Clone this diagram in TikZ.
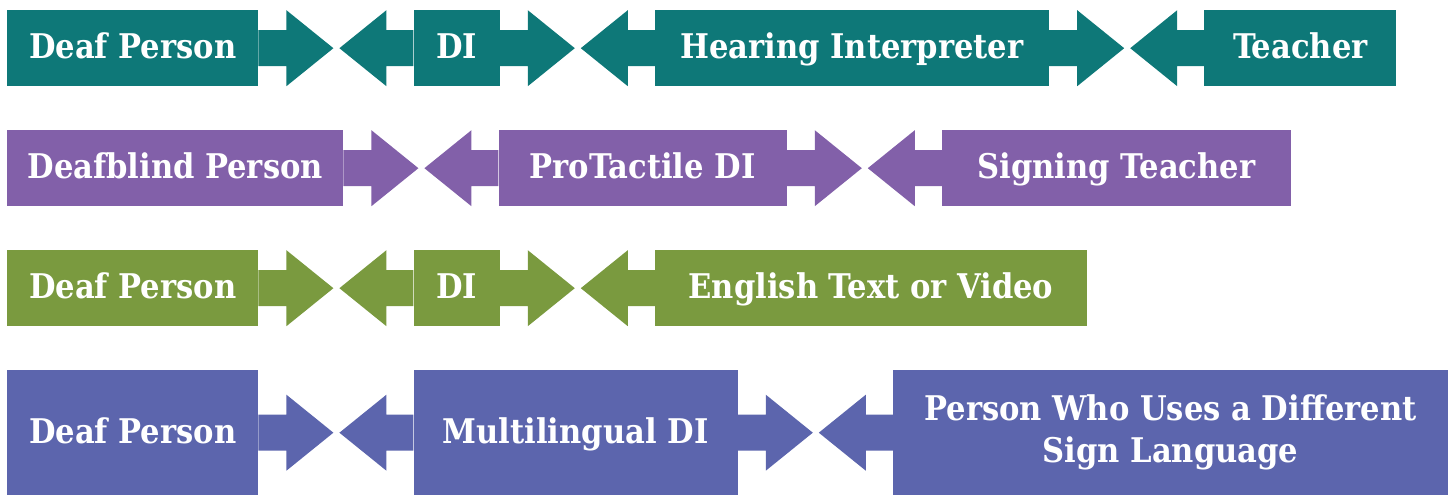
\documentclass[tikz,border=0pt]{standalone}
\usepackage{fontspec}
\setmainfont{DejaVu Serif Condensed}
\usepackage{tikz}
\usetikzlibrary{positioning}
\usetikzlibrary{calc}
\definecolor{tealrow}{HTML}{0E7878}
\definecolor{purplerow}{HTML}{8260A9}
\definecolor{greenrow}{HTML}{7A9A3F}
\definecolor{bluerow}{HTML}{5C65AD}
\newcommand{\toright}[2]{\fill[#2] ($(#1.east)+(0,-18)$) -- ++(28,0) -- ++(0,-20) -- ++(47,38) -- ++(-47,38) -- ++(0,-20) -- ++(-28,0) -- cycle;}
\newcommand{\toleft}[2]{\fill[#2] ($(#1.west)+(0,-18)$) -- ++(-27,0) -- ++(0,-20) -- ++(-47,38) -- ++(47,38) -- ++(0,-20) -- ++(27,0) -- cycle;}
\begin{document}
\begin{tikzpicture}[x=1pt,y=-1pt,
  box/.style={rectangle,fill=#1,text=white,inner sep=0pt,minimum height=76pt,align=center,
    font=\fontsize{34}{42}\selectfont\bfseries},
  oneline/.style={box=#1,text height=25pt,text depth=4pt},
  gap/.style={right=155pt of #1}]
\useasboundingbox (0,0) rectangle (1453,495);
% row 1
\node[oneline=tealrow,minimum width=251pt,anchor=north west] (deaf1) at (7,10) {Deaf Person};
\node[oneline=tealrow,minimum width=86pt,gap=deaf1] (di1) {DI};
\node[oneline=tealrow,minimum width=394pt,gap=di1] (hear1) {Hearing Interpreter};
\node[oneline=tealrow,minimum width=192pt,gap=hear1] (teach1) {Teacher};
\toright{deaf1}{tealrow} \toleft{di1}{tealrow}
\toright{di1}{tealrow} \toleft{hear1}{tealrow}
\toright{hear1}{tealrow} \toleft{teach1}{tealrow}
% row 2
\node[oneline=purplerow,minimum width=336pt,anchor=north west] (deaf2) at (7,130) {Deafblind Person};
\node[oneline=purplerow,minimum width=288pt,gap=deaf2] (di2) {ProTactile DI};
\node[oneline=purplerow,minimum width=349pt,gap=di2] (teach2) {Signing Teacher};
\toright{deaf2}{purplerow} \toleft{di2}{purplerow}
\toright{di2}{purplerow} \toleft{teach2}{purplerow}
% row 3
\node[oneline=greenrow,minimum width=251pt,anchor=north west] (deaf3) at (7,250) {Deaf Person};
\node[oneline=greenrow,minimum width=86pt,gap=deaf3] (di3) {DI};
\node[oneline=greenrow,minimum width=432pt,gap=di3] (text3) {English Text or Video};
\toright{deaf3}{greenrow} \toleft{di3}{greenrow}
\toright{di3}{greenrow} \toleft{text3}{greenrow}
% row 4
\node[oneline=bluerow,minimum width=251pt,minimum height=125pt,anchor=north west] (deaf4) at (7,370) {Deaf Person};
\node[oneline=bluerow,minimum width=324pt,minimum height=125pt,gap=deaf4] (di4) {Multilingual DI};
\node[box=bluerow,minimum width=555pt,minimum height=125pt,gap=di4] (other4) {Person Who Uses a Different\\Sign Language};
\toright{deaf4}{bluerow} \toleft{di4}{bluerow}
\toright{di4}{bluerow} \toleft{other4}{bluerow}
\end{tikzpicture}
\end{document}
